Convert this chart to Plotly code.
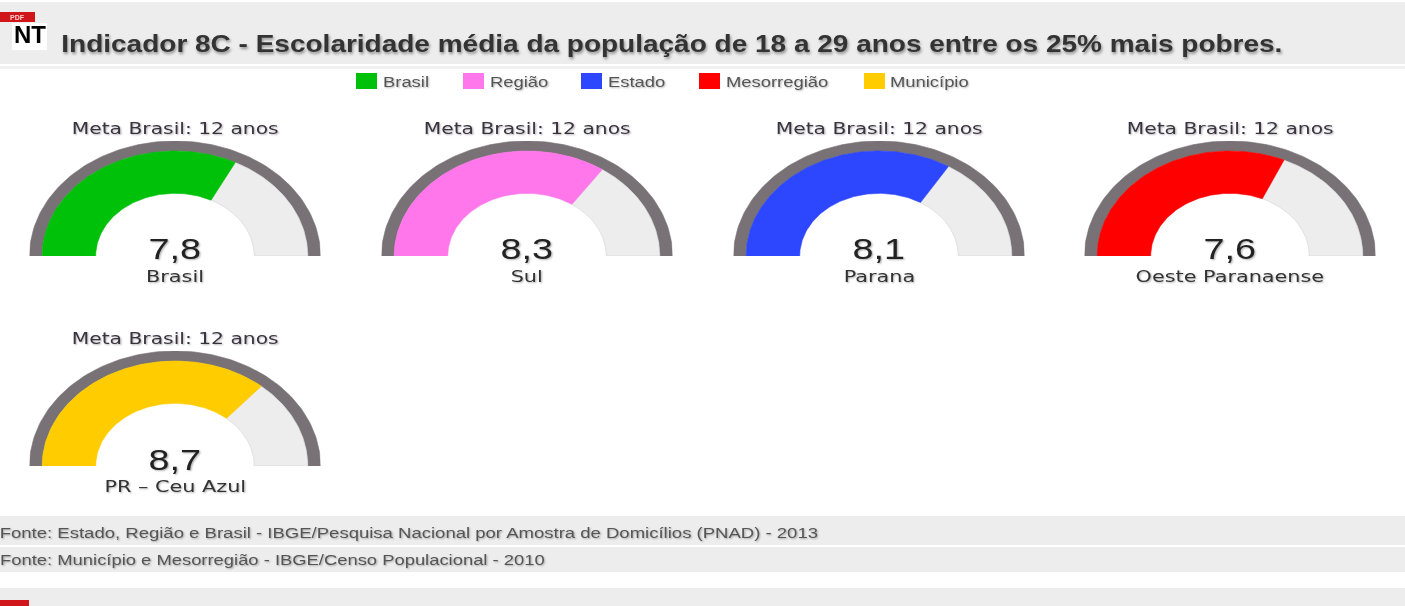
import numpy as np
import plotly.graph_objects as go

W, H = 1405, 606

# Data
names = ["Brasil", "Sul", "Parana", "Oeste Paranaense", "PR – Ceu Azul"]
values = [7.8, 8.3, 8.1, 7.6, 8.7]
value_labels = ["7,8", "8,3", "8,1", "7,6", "8,7"]
meta = 12
colors = ["#00C10A", "#FF77EA", "#2D46FF", "#FF0000", "#FFCC00"]
legend_names = ["Brasil", "Região", "Estado", "Mesorregião", "Município"]
title = "Indicador 8C - Escolaridade média da população de 18 a 29 anos entre os 25% mais pobres."
sources = [
    "Fonte: Estado, Região e Brasil - IBGE/Pesquisa Nacional por Amostra de Domicílios (PNAD) - 2013",
    "Fonte: Município e Mesorregião - IBGE/Censo Populacional - 2010",
]

# Layout constants (pixels)
centers = [(175, 256), (527, 256), (879, 256), (1230, 256), (175, 466)]
RX, RY = 145.5, 115
RING_IN, HOLE = 0.913, 0.545
RING, TRACK = "#787276", "#EDEDED"
SHADOW = "1px 1px 2px rgba(0,0,0,0.3)"
STRETCH = 1.26  # the reference picture is stretched horizontally
TITLE_STRETCH = 1.143


def px(x):
    return x / W


def py(y):
    return 1 - y / H


def sector(v0, v1, r0, r1, vmax):
    a0 = np.pi - np.pi * v0 / vmax
    a1 = np.pi - np.pi * v1 / vmax
    t = np.linspace(a0, a1, 120)
    xs = np.r_[r1 * np.cos(t), r0 * np.cos(t[::-1]), r1 * np.cos(t[0])]
    ys = np.r_[r1 * np.sin(t), r0 * np.sin(t[::-1]), r1 * np.sin(t[0])]
    return xs, ys


fig = go.Figure()
annotations, shapes = [], []


def text(x, y, s, size, color="#333", family="DejaVu Sans", anchor="center", shadow=SHADOW, weight=None):
    annotations.append(dict(
        x=px(x), y=py(y), xref="paper", yref="paper", text=s, showarrow=False,
        xanchor=anchor, yanchor="middle",
        font=dict(size=size, color=color, family=family, shadow=shadow, weight=weight),
    ))


def rect(x0, y0, x1, y1, color):
    shapes.append(dict(type="rect", xref="paper", yref="paper", layer="below",
                       x0=px(x0), x1=px(x1), y0=py(y0), y1=py(y1),
                       fillcolor=color, line_width=0))


layout_axes = {}
for i, (name, v, lab, col, (cx, cy)) in enumerate(zip(names, values, value_labels, colors, centers)):
    sx = "" if i == 0 else str(i + 1)
    layout_axes[f"xaxis{sx}"] = dict(domain=[px(cx - RX), px(cx + RX)], range=[-1, 1], visible=False, fixedrange=True)
    layout_axes[f"yaxis{sx}"] = dict(domain=[py(cy), py(cy - RY)], range=[0, 1], visible=False, fixedrange=True)
    axes = dict(xaxis=f"x{sx}", yaxis=f"y{sx}")
    for v0, v1, r0, r1, fc, lc in [
        (0, meta, RING_IN, 1, RING, RING),
        (v, meta, HOLE, RING_IN, TRACK, "#D4D4D4"),
        (0, v, HOLE, RING_IN, col, col),
    ]:
        xs, ys = sector(v0, v1, r0, r1, meta)
        fig.add_trace(go.Scatter(x=xs, y=ys, mode="lines", fill="toself", fillcolor=fc,
                                 line=dict(color=lc, width=0.6), hoverinfo="skip",
                                 showlegend=False, **axes))
    text(cx - 0.5, cy - 128, f"Meta Brasil: {meta} anos", 16.1, "#3a3340")
    text(cx, cy - 7, lab, 30, "#222", family="Liberation Sans")
    text(cx, cy + 20, name, 16.5, "#333")

# Page bands
rect(0, 2, W, 64, "#EDEDED")
rect(0, 66, W, 69, "#F1F1F1")
rect(0, 516, W, 545, "#EDEDED")
rect(0, 547, W, 572, "#EDEDED")
rect(0, 588, W, H, "#EDEDED")

# PDF icon
rect(12, 23, 47, 50, "#FFFFFF")
rect(0, 12, 35, 22, "#D0161B")
rect(0, 600, 29, H, "#D0161B")
text(17, 17.5, "PDF", 7, "#FFD0D0", family="Liberation Sans", shadow="none", weight=700)
text(29.5, 35, "NT", 24, "#000000", family="Liberation Sans", shadow="none", weight=700)

text(59, 44, title, 24.5, "#333333", family="Liberation Sans", anchor="left",
     shadow="1px 2px 3px rgba(0,0,0,0.4)", weight=700)

# Legend
legend_x = [356, 463, 581, 699, 864]
for lx, nm, col in zip(legend_x, legend_names, colors):
    rect(lx, 73, lx + 21, 89, col)
    text(lx + 24.5, 82, nm, 14.6, "#555555", family="Liberation Sans", anchor="left")

# Sources
text(-2.5, 533, sources[0], 14.7, "#555555", family="Liberation Sans", anchor="left")
text(-2.5, 560, sources[1], 14.6, "#555555", family="Liberation Sans", anchor="left")

fig.update_layout(
    width=W, height=H, margin=dict(l=0, r=0, t=0, b=0), autosize=False,
    paper_bgcolor="#FFFFFF", plot_bgcolor="rgba(0,0,0,0)", showlegend=False,
    annotations=annotations, shapes=shapes, **layout_axes,
)

post = """
document.body.style.margin='0';document.body.style.overflow='hidden';
var gd=document.getElementById('{plot_id}');
gd.querySelectorAll('g.annotation').forEach(function(g){
  var t=g.querySelector('text.annotation-text'); if(!t) return;
  var ann=gd.layout.annotations[+g.getAttribute('data-index')];
  t.style.filter='blur(0.4px)';
  if(ann.text==='NT'||ann.text==='PDF') return;
  var s=ann.font.weight===700?TITLE_S:BASE_S;
  var b=t.getBBox();
  var ax=ann.xanchor==='left'?b.x:b.x+b.width/2;
  t.setAttribute('transform','translate('+ax+',0) scale('+s+',1) translate('+(-ax)+',0)');
});
""".replace("TITLE_S", str(TITLE_STRETCH)).replace("BASE_S", str(STRETCH))
fig.write_html("out.html", config={"displayModeBar": False}, post_script=post)
